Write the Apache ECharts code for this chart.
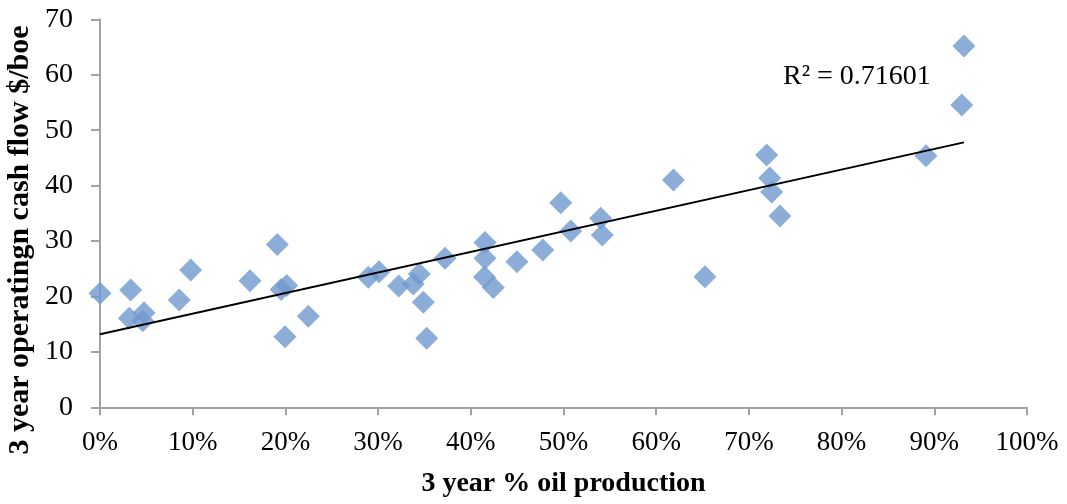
<!DOCTYPE html>
<html>
<head>
<meta charset="utf-8">
<script src="https://cdn.jsdelivr.net/npm/echarts@6/dist/echarts.min.js"></script>
<style>
  html, body { margin: 0; padding: 0; background: #ffffff; }
  #chart { width: 1067px; height: 504px; }
</style>
</head>
<body>
<div id="chart"></div>
<script>
// 3 year share of oil in production (%), one entry per company
const oilShare = [
  0, 3.31, 3.16, 4.75, 4.61, 8.55, 9.78, 16.18, 19.13, 19.53,
  20.14, 19.96, 22.47, 28.94, 30.10, 32.22, 33.80, 34.44, 34.88, 35.24,
  37.22, 41.53, 41.53, 41.48, 42.43, 44.98, 47.76, 49.70, 50.78, 54.01,
  54.18, 61.86, 65.26, 71.92, 72.24, 72.46, 73.35, 89.10, 92.96, 93.20
];
// 3 year operating cash flow ($/boe), same order
const cashFlow = [
  20.57, 21.16, 16.06, 17.07, 15.62, 19.36, 24.77, 22.84, 29.37, 21.25,
  21.97, 12.74, 16.42, 23.45, 24.46, 21.88, 22.24, 24.05, 18.94, 12.45,
  26.88, 29.73, 26.88, 23.51, 21.61, 26.27, 28.38, 36.91, 31.81, 34.10,
  31.08, 41.01, 23.56, 45.52, 41.37, 38.84, 34.51, 45.39, 54.54, 65.18
];
const xTicks = [0, 10, 20, 30, 40, 50, 60, 70, 80, 90, 100];
const yTicks = [0, 10, 20, 30, 40, 50, 60, 70];
const xTitle = '3 year % oil production';
const yTitle = '3 year operatingn cash flow $/boe';
const rSquaredText = 'R\u00B2 = 0.71601';

// least-squares linear trend through the points
function linearFit(xs, ys) {
  const n = xs.length;
  const mx = xs.reduce((a, b) => a + b, 0) / n;
  const my = ys.reduce((a, b) => a + b, 0) / n;
  let sxy = 0, sxx = 0;
  for (let i = 0; i < n; i++) {
    sxy += (xs[i] - mx) * (ys[i] - my);
    sxx += (xs[i] - mx) * (xs[i] - mx);
  }
  const slope = sxy / sxx;
  return { slope, intercept: my - slope * mx };
}
const fit = linearFit(oilShare, cashFlow);
const xMin = Math.min(...oilShare);
const xMax = Math.max(...oilShare);
const trend = [
  [xMin, fit.intercept + fit.slope * xMin],
  [xMax, fit.intercept + fit.slope * xMax]
];

const points = oilShare.map((x, i) => [x, cashFlow[i]]);

const serif = '"Liberation Serif", "DejaVu Serif", serif';
const axisGray = '#a3a3a3';

const chart = echarts.init(document.getElementById('chart'), null, { renderer: 'canvas' });
chart.setOption({
  animation: false,
  backgroundColor: '#ffffff',
  grid: { left: 100, right: 40, top: 19.3, bottom: 96.7 },
  xAxis: {
    type: 'value',
    min: xTicks[0],
    max: xTicks[xTicks.length - 1],
    interval: 10,
    name: xTitle,
    nameLocation: 'middle',
    nameGap: 62,
    nameTextStyle: { fontFamily: serif, fontSize: 28, fontWeight: 'bold', color: '#000' },
    axisLine: { show: true, lineStyle: { color: axisGray, width: 2 } },
    axisTick: { show: true, length: 8, lineStyle: { color: axisGray, width: 2 } },
    axisLabel: {
      margin: 22,
      fontFamily: serif,
      fontSize: 27,
      color: '#000',
      formatter: v => v + '%'
    },
    splitLine: { show: false }
  },
  yAxis: {
    type: 'value',
    min: yTicks[0],
    max: yTicks[yTicks.length - 1],
    interval: 10,
    axisLine: { show: true, lineStyle: { color: axisGray, width: 2 } },
    axisTick: { show: true, length: 9, lineStyle: { color: axisGray, width: 2 } },
    axisLabel: { margin: 27, fontFamily: serif, fontSize: 28, color: '#000' },
    splitLine: { show: false }
  },
  graphic: [
    {
      // vertical axis title, reading bottom to top
      type: 'text',
      x: 20,
      y: 240,
      rotation: Math.PI / 2,
      style: {
        text: yTitle,
        font: 'bold 30px ' + serif,
        fill: '#000',
        align: 'center',
        verticalAlign: 'middle'
      }
    },
    {
      type: 'text',
      left: 783,
      top: 63,
      style: { text: rSquaredText, font: '28px ' + serif, fill: '#000' }
    }
  ],
  series: [
    {
      type: 'scatter',
      data: points,
      symbol: 'diamond',
      symbolSize: 23,
      itemStyle: { color: '#6f98cd' },
      z: 2
    },
    {
      type: 'line',
      data: trend,
      showSymbol: false,
      symbol: 'none',
      lineStyle: { color: '#000', width: 2 },
      z: 3,
      silent: true
    }
  ]
});
</script>
</body>
</html>
